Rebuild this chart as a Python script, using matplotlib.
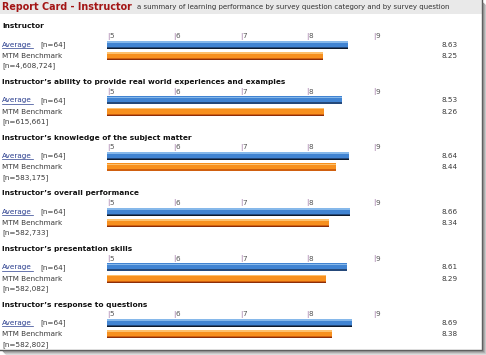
import numpy as np
import matplotlib
matplotlib.use('Agg')
from matplotlib import pyplot as plt
from matplotlib.patches import Rectangle

questions = ['Instructor',
             'Instructor\u2019s ability to provide real world experiences and examples',
             'Instructor\u2019s knowledge of the subject matter',
             'Instructor\u2019s overall performance',
             'Instructor\u2019s presentation skills',
             'Instructor\u2019s response to questions']
average = [8.63, 8.53, 8.64, 8.66, 8.61, 8.69]
benchmark = [8.25, 8.26, 8.44, 8.34, 8.29, 8.38]
avg_n = ['64', '64', '64', '64', '64', '64']
bench_n = ['4,608,724', '615,661', '583,175', '582,733', '582,082', '582,802']
ticks = [5, 6, 7, 8, 9]

W, H = 486, 355
fig = plt.figure(figsize=(W / 100, H / 100), dpi=100)
fig.patch.set_facecolor('white')

# background axes in pixel coordinates for panel + text
bg = fig.add_axes([0, 0, 1, 1])
bg.set_xlim(0, W)
bg.set_ylim(H, 0)
bg.set_axis_off()

# header strip
bg.add_patch(Rectangle((0, 0), 481.5, 13.5, color='#e9e9e9', lw=0))
bg.text(2, 7, 'Report Card - Instructor', color='#a31515', fontsize=6.9,
        fontweight='bold', va='center', ha='left')
bg.text(137, 7.5, 'a summary of learning performance by survey question category and by survey question',
        color='#333333', fontsize=5.05, va='center', ha='left')

# panel edge + drop shadow
bg.plot([482, 482], [0, 350], color='#555555', lw=1.0)
bg.plot([0, 482], [350, 350], color='#555555', lw=1.0)
for k, c in enumerate(['#8a8a8a', '#a8a8a8', '#c4c4c4', '#dcdcdc']):
    bg.plot([483 + k, 483 + k], [3 + k, 351 + k], color=c, lw=1.0)
    bg.plot([3 + k, 483 + k], [351 + k, 351 + k], color=c, lw=1.0)

text_c = '#3a3a3a'
link_c = '#2b3f8f'
x0_px, x1_px = 107, 373   # pixel span of 5..9
step = 55.65

for i, q in enumerate(questions):
    ty = 26.5 + i * step
    bg.text(2, ty, q, fontsize=5.35, fontweight='bold', color='#111111',
            va='center', ha='left')

    # left labels
    bg.text(2, ty + 18.3, 'Average', fontsize=5.2, color=link_c, va='center', ha='left')
    bg.plot([2, 32.5], [ty + 21.6, ty + 21.6], color=link_c, lw=0.5)
    bg.text(40, ty + 18.3, '[n=%s]' % avg_n[i], fontsize=5.2, color=text_c,
            va='center', ha='left')
    bg.text(2, ty + 29.5, 'MTM Benchmark', fontsize=5.2, color=text_c,
            va='center', ha='left')
    bg.text(2, ty + 39.5, '[n=%s]' % bench_n[i], fontsize=5.2, color=text_c,
            va='center', ha='left')

    # values on the right
    bg.text(458, ty + 18.3, '%.2f' % average[i], fontsize=5.2, color=text_c,
            va='center', ha='right')
    bg.text(458, ty + 29.5, '%.2f' % benchmark[i], fontsize=5.2, color=text_c,
            va='center', ha='right')

    # bar axes
    top, bot = ty + 4, ty + 35
    ax = fig.add_axes([x0_px / W, 1 - bot / H, (x1_px - x0_px) / W, (bot - top) / H])
    ax.set_xlim(5, 9)
    ax.set_ylim(bot - ty, top - ty)
    ax.set_axis_off()

    h = 8
    for y, v, main, light, dark, edge in [
            (18.3, average[i], '#4184d2', '#86b8ea', '#25497a', '#0d1a2c'),
            (29.5, benchmark[i], '#f7901e', '#fdc06c', '#d0600f', '#8c2e08')]:
        ax.barh(y, v - 5, left=5, height=h, color=main, lw=0)
        ax.barh(y - h / 2 + 1.0, v - 5, left=5, height=1.6, color=light, lw=0)
        ax.barh(y + h / 2 - 1.4, v - 5, left=5, height=1.2, color=dark, lw=0)
        ax.barh(y + h / 2 - 0.4, v - 5, left=5, height=0.8, color=edge, lw=0)

    for t in ticks:
        ax.text(t, 9.5, '|', fontsize=5.2, color='#9b6fa0', va='center', ha='left',
                clip_on=False)
        ax.annotate(str(t), (t, 9.5), xytext=(1.6, 0), textcoords='offset points',
                    fontsize=5.2, color='#555555', va='center', ha='left')

fig.savefig('out.png', dpi=100, facecolor='white')
